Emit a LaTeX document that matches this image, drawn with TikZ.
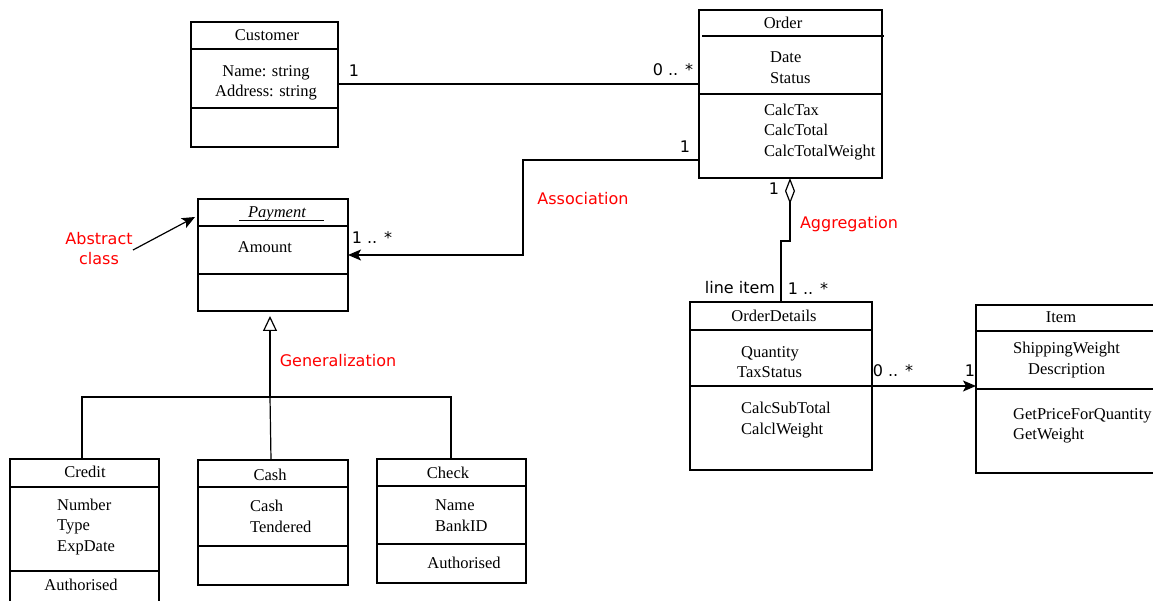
\documentclass[tikz,border=0pt]{standalone}
\usepackage{fontspec}
\setmainfont{Liberation Serif}
\newfontfamily\labfont{DejaVu Sans}
\usetikzlibrary{arrows.meta,calc}
\begin{document}
\begin{tikzpicture}[x=1pt,y=-1pt,
  cls/.style={draw, line width=1.2pt, anchor=north west, inner sep=0pt, outer sep=0pt},
  divl/.style={line width=1.2pt},
  txt/.style={font=\fontsize{16.5}{19}\selectfont, inner sep=0pt, anchor=base, yshift=-1pt},
  ltxt/.style={txt, anchor=base west},
  mult/.style={font=\labfont\fontsize{16}{18}\selectfont, inner sep=0pt, anchor=base, yshift=-0.5pt},
  note/.style={mult, text=red},
  conn/.style={line width=1.2pt},
  tip/.style={-{Stealth[length=13pt,width=11pt,inset=3pt]}}]
\useasboundingbox (0,0) rectangle (1153,601);

% ---------- Customer
\node[cls, minimum width=147pt, minimum height=125pt] (cust) at (191,22) {};
\draw[divl] (191,49) -- (338,49);
\draw[divl] (191,108) -- (338,108);
\node[txt] (custT) at (267,40) {Customer};
\node[txt] (custA1) at (266,76) {Name: string};
\node[txt] (custA2) at (266,96) {Address: string};

% ---------- Order
\node[cls, minimum width=183pt, minimum height=168pt] (order) at (699,10) {};
\draw[divl] (702,36) -- (884,36);
\draw[divl] (699,94) -- (882,94);
\node[txt] (orderT) at (783,28) {Order};
\node[ltxt] (orderA1) at (770,62) {Date};
\node[ltxt] (orderA2) at (770,83) {Status};
\node[ltxt] (orderM1) at (764,115) {CalcTax};
\node[ltxt] (orderM2) at (764,135) {CalcTotal};
\node[ltxt] (orderM3) at (764,156) {CalcTotalWeight};

% ---------- Payment
\node[cls, minimum width=150pt, minimum height=112pt] (pay) at (198,199) {};
\draw[divl] (198,226) -- (348,226);
\draw[divl] (198,274) -- (348,274);
\node[txt, font=\fontsize{16.5}{19}\selectfont\itshape] (payT) at (277,217) {Payment};
\draw[line width=1pt] (239,221) -- (324,221);
\node[txt] (payA) at (265,252) {Amount};

% ---------- OrderDetails
\node[cls, minimum width=182pt, minimum height=168pt] (od) at (690,302) {};
\draw[divl] (690,330) -- (872,330);
\draw[divl] (690,386) -- (872,386);
\node[txt] (odT) at (774,321) {OrderDetails};
\node[ltxt] (odA1) at (741,356) {Quantity};
\node[ltxt] (odA2) at (737,376) {TaxStatus};
\node[ltxt] (odM1) at (741,412) {CalcSubTotal};
\node[ltxt] (odM2) at (741,433) {CalclWeight};

% ---------- Item
\node[cls, minimum width=178pt, minimum height=168pt] (item) at (976,305) {};
\draw[divl] (976,331) -- (1154,331);
\draw[divl] (976,389) -- (1154,389);
\node[txt] (itemT) at (1061,322) {Item};
\node[ltxt] (itemA1) at (1013,352) {ShippingWeight};
\node[ltxt] (itemA2) at (1028,373) {Description};
\node[ltxt] (itemM1) at (1013,418) {GetPriceForQuantity};
\node[ltxt] (itemM2) at (1013,438) {GetWeight};

% ---------- Credit
\node[cls, minimum width=149pt, minimum height=160pt] (credit) at (10,459) {};
\draw[divl] (10,487) -- (159,487);
\draw[divl] (10,571) -- (159,571);
\node[txt] (creditT) at (85,476) {Credit};
\node[ltxt] (creditA1) at (57,509) {Number};
\node[ltxt] (creditA2) at (57,529) {Type};
\node[ltxt] (creditA3) at (57,550) {ExpDate};
\node[txt] (creditM) at (81,589) {Authorised};

% ---------- Cash
\node[cls, minimum width=150pt, minimum height=125pt] (cash) at (198,460) {};
\draw[divl] (198,487) -- (348,487);
\draw[divl] (198,546) -- (348,546);
\node[txt] (cashT) at (270,479) {Cash};
\node[ltxt] (cashA1) at (250,510) {Cash};
\node[ltxt] (cashA2) at (250,531) {Tendered};

% ---------- Check
\node[cls, minimum width=149pt, minimum height=124pt] (check) at (377,459) {};
\draw[divl] (377,486) -- (526,486);
\draw[divl] (377,544) -- (526,544);
\node[txt] (checkT) at (448,477) {Check};
\node[ltxt] (checkA1) at (435,509) {Name};
\node[ltxt] (checkA2) at (435,530) {BankID};
\node[txt] (checkM) at (464,567) {Authorised};

% ---------- Customer -- Order
\draw[conn] (cust.east |- 0,84) -- (order.west |- 0,84);
\node[mult] (m1) at (354,76) {1};
\node[mult] (m2) at (673,75) {0 .. *};

% ---------- Order -> Payment (association)
\draw[conn, tip] (order.west |- 0,160) -- (523,160) -- (523,255) -- (pay.east |- 0,255);
\node[mult] (m3) at (685,152) {1};
\node[mult] (m4) at (372,243) {1 .. *};
\node[note] (assoc) at (583,204) {Association};

% ---------- Abstract class note
\node[note] (abs1) at (99,244) {Abstract};
\node[note] (abs2) at (99,264) {class};
\coordinate (absfrom) at (133,250);
\draw[conn, tip] (absfrom) -- ($(pay.north west)+(-3,18)$);

% ---------- Aggregation
\coordinate (agbend) at (790,241);
\draw[conn, {Diamond[open,length=26pt,width=10pt]}-] (order.south -| 790,0) -- (agbend) -- (781,241) -- (od.north -| 781,0);
\node[mult] (m5) at (774,194) {1};
\node[note] (aggr) at (849,228) {Aggregation};
\node[mult] (m6) at (740,293) {line item};
\node[mult] (m7) at (808,294) {1 .. *};

% ---------- OrderDetails -> Item
\draw[conn, tip] (od.east |- 0,386) -- (item.west |- 0,386);
\node[mult] (m8) at (893,376) {0 .. *};
\node[mult] (m9) at (970,376) {1};

% ---------- Generalization
\coordinate (gj) at (270,397);
\draw[conn, -{Triangle[open,length=15pt,width=14pt]}] (gj) -- ($(pay.south)+(-3,5)$);
\draw[conn] (credit.north -| 82,0) -- (82,397) -- (451,397) -- (check.north -| 451,0);
\draw[conn] (gj) -- (cash.north -| 271,0);
\node[note] (gen) at (338,366) {Generalization};
\end{tikzpicture}
\end{document}
